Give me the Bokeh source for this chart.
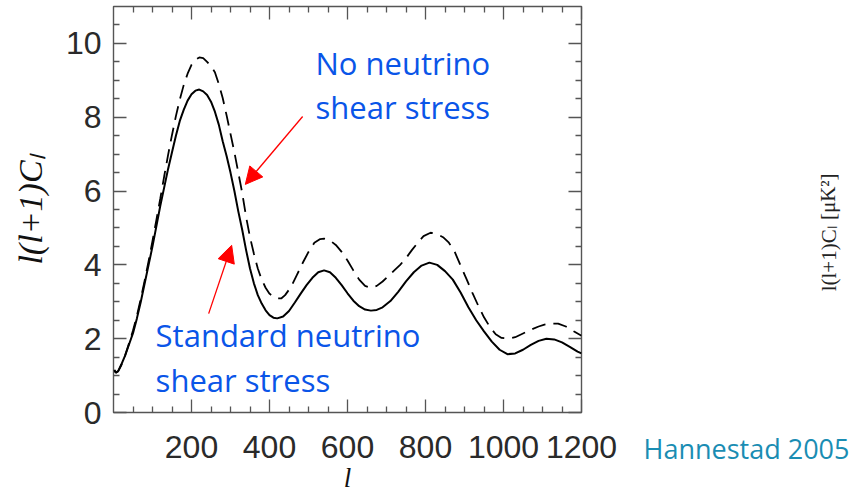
from bokeh.plotting import figure
from bokeh.layouts import row
from bokeh.models import (Range1d, LinearAxis, FixedTicker, Label, Arrow,
                          NormalHead, CustomJSTickFormatter, Title)
from bokeh.core.properties import value
from bokeh.embed import file_html
from bokeh.resources import INLINE

# ---- data ----
l_std = [2, 6, 12, 20, 30, 40, 50, 60, 70, 80, 90, 100, 110, 120, 130, 140, 150, 160, 170,
         180, 190, 200, 210, 220, 230, 240, 250, 260, 270, 280, 290, 300, 310, 320, 330,
         340, 350, 360, 370, 380, 390, 400, 410, 420, 435, 450, 465, 480, 495, 510, 525,
         540, 555, 570, 585, 600, 615, 630, 645, 660, 675, 690, 710, 730, 750, 770, 790,
         810, 830, 850, 870, 890, 910, 930, 950, 970, 990, 1010, 1030, 1050, 1070, 1090,
         1110, 1130, 1150, 1170, 1190, 1200]
cl_std = [1.15, 1.08, 1.12, 1.3, 1.55, 1.85, 2.15, 2.55, 3.0, 3.5, 4.0, 4.5, 5.05, 5.6, 6.1,
          6.6, 7.05, 7.5, 7.9, 8.2, 8.45, 8.62, 8.72, 8.75, 8.7, 8.6, 8.42, 8.15, 7.8, 7.35,
          6.95, 6.5, 6.0, 5.45, 4.95, 4.4, 3.9, 3.5, 3.18, 2.95, 2.77, 2.64, 2.57, 2.55, 2.6,
          2.75, 2.98, 3.22, 3.45, 3.65, 3.8, 3.85, 3.8, 3.65, 3.45, 3.23, 3.03, 2.88, 2.79,
          2.76, 2.78, 2.85, 3.02, 3.27, 3.55, 3.8, 3.98, 4.06, 4.0, 3.83, 3.6, 3.25, 2.85,
          2.5, 2.2, 1.92, 1.7, 1.58, 1.6, 1.7, 1.83, 1.94, 2.0, 1.98, 1.9, 1.78, 1.65, 1.6]

l_nos = [2, 6, 12, 20, 30, 40, 50, 60, 70, 80, 90, 100, 110, 120, 130, 140, 150, 160, 170,
         180, 190, 200, 210, 220, 230, 240, 250, 260, 270, 280, 290, 300, 310, 320, 330,
         340, 350, 360, 370, 380, 390, 400, 410, 420, 430, 440, 455, 470, 485, 500, 515,
         530, 540, 555, 570, 585, 600, 615, 630, 645, 660, 675, 690, 705, 720, 735, 750,
         765, 780, 795, 813, 830, 845, 860, 875, 890, 905, 920, 935, 950, 965, 980, 995,
         1013, 1030, 1050, 1070, 1090, 1105, 1120, 1140, 1160, 1180, 1200]
cl_nos = [1.15, 1.08, 1.12, 1.28, 1.55, 1.88, 2.22, 2.62, 3.08, 3.58, 4.1, 4.65, 5.22, 5.8,
          6.4, 6.98, 7.52, 8.03, 8.48, 8.87, 9.18, 9.42, 9.56, 9.62, 9.6, 9.5, 9.38, 9.22,
          8.9, 8.52, 8.05, 7.55, 7.05, 6.5, 5.95, 5.3, 4.75, 4.3, 3.9, 3.6, 3.38, 3.22, 3.13,
          3.09, 3.09, 3.18, 3.4, 3.72, 4.05, 4.35, 4.6, 4.7, 4.71, 4.66, 4.54, 4.35, 4.12,
          3.85, 3.6, 3.43, 3.38, 3.43, 3.55, 3.7, 3.85, 4.0, 4.18, 4.4, 4.6, 4.78, 4.87, 4.83,
          4.75, 4.6, 4.35, 3.98, 3.62, 3.25, 2.9, 2.58, 2.32, 2.12, 2.02, 2.0, 2.04, 2.14,
          2.24, 2.33, 2.38, 2.41, 2.41, 2.33, 2.2, 2.08]

x_ticks = [200, 400, 600, 800, 1000, 1200]
x_minor = [50, 100, 150, 250, 300, 350, 450, 500, 550, 650, 700, 750, 850, 900, 950,
           1050, 1100, 1150]
y_ticks = [0, 2, 4, 6, 8, 10]
y_minor = [0.5, 1, 1.5, 2.5, 3, 3.5, 4.5, 5, 5.5, 6.5, 7, 7.5, 8.5, 9, 9.5, 10.5]

FRAME = "#555555"
BLUE = "#0a55e8"
TEAL = "#1a8db3"

p = figure(width=630, height=496, x_range=Range1d(0, 1200), y_range=Range1d(0, 11),
           output_backend="svg", toolbar_location=None,
           min_border_left=113, min_border_right=49, min_border_top=6,
           min_border_bottom=84, background_fill_color="white",
           border_fill_color="white")
p.xgrid.visible = False
p.ygrid.visible = False
p.outline_line_color = FRAME
p.outline_line_width = 1.4

blank = CustomJSTickFormatter(code="return ''")


def style(ax, ticks, minor, show):
    ax.ticker = FixedTicker(ticks=ticks, minor_ticks=minor)
    ax.axis_line_color = None
    ax.major_tick_in = 13
    ax.major_tick_out = 0
    ax.minor_tick_in = 6
    ax.minor_tick_out = 0
    ax.major_tick_line_color = FRAME
    ax.minor_tick_line_color = FRAME
    ax.major_tick_line_width = 1.3
    ax.minor_tick_line_width = 1.3
    if show:
        ax.major_label_text_font = "Liberation Sans"
        ax.major_label_text_font_size = "32px"
        ax.major_label_text_color = "#2a2a2a"
    else:
        ax.formatter = blank
        ax.major_label_text_font_size = "1px"
        ax.major_label_standoff = 0


xa = p.xaxis[0]
style(xa, x_ticks, x_minor, True)
xa.major_label_standoff = 23
xa.axis_label = "l"
xa.axis_label_text_font = "Liberation Serif"
xa.axis_label_text_font_style = "italic"
xa.axis_label_text_font_size = "27px"
xa.axis_label_text_color = "#111111"
xa.axis_label_standoff = 2

ya = p.yaxis[0]
style(ya, y_ticks, y_minor, True)
ya.major_label_standoff = 12
ya.axis_label = "l(l+1)C\u2097"
ya.axis_label_text_font = "Liberation Serif"
ya.axis_label_text_font_style = "italic"
ya.axis_label_text_font_size = "34px"
ya.axis_label_text_color = "#111111"
ya.axis_label_standoff = 14

top = LinearAxis()
style(top, x_ticks, x_minor, False)
p.add_layout(top, "above")
right = LinearAxis()
style(right, y_ticks, y_minor, False)
p.add_layout(right, "right")

p.line(l_nos, cl_nos, line_color="black", line_width=1.8, line_dash="14 8")
p.line(l_std, cl_std, line_color="black", line_width=2)

# arrows
for xs, ys, xe, ye in [(485, 8.02, 338, 6.18), (244, 2.68, 303, 4.53)]:
    p.add_layout(Arrow(end=NormalHead(size=17, fill_color="red", line_color="red"),
                       x_start=xs, y_start=ys, x_end=xe, y_end=ye,
                       line_color="red", line_width=1.3))


def txt(x, y, s):
    p.add_layout(Label(x=x, y=y, text=s, text_font="Open Sans", text_font_size="31px",
                       text_color=BLUE, text_align="left", text_baseline="alphabetic"))


txt(518, 9.48, "No neutrino")
txt(518, 8.29, "shear stress")
txt(108, 2.11, "Standard neutrino")
txt(108, 0.89, "shear stress")

# side panel: citation and the cropped neighbouring chart's axis title
p2 = figure(width=224, height=496, x_range=Range1d(0, 224), y_range=Range1d(0, 11),
            output_backend="svg", toolbar_location=None, min_border=0,
            min_border_top=6, min_border_bottom=84,
            x_axis_location=None, y_axis_location=None,
            background_fill_color="white", border_fill_color="white")
p2.grid.visible = False
p2.outline_line_color = None
p2.add_layout(Title(text="Hannestad 2005", align="left", offset=13, standoff=30,
                    text_font="Open Sans", text_font_size="27px",
                    text_font_style="normal", text_color=TEAL), "below")
p2.text(x=[198], y=[4.88], text=["l(l+1)C\u2097 [\u03bcK\u00b2]"],
        text_font=value("Liberation Serif"), text_font_size="21px",
        text_color="#222222", angle=1.5708, text_align="center",
        text_baseline="middle")

layout = row(p, p2, spacing=0)
open("out.html", "w").write(file_html(layout, INLINE))
